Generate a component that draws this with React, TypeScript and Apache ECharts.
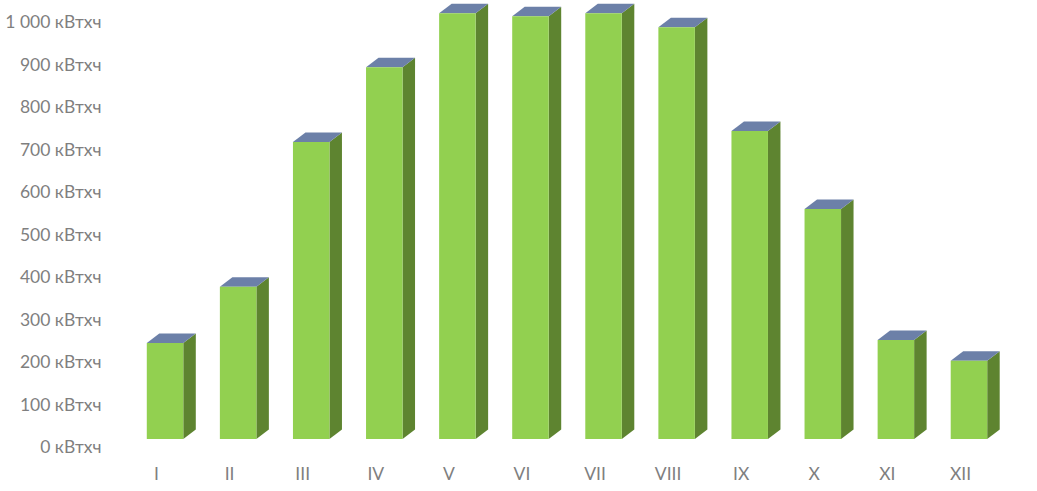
import React, { useEffect, useRef } from "react";
import * as echarts from "echarts";

const months = ["I", "II", "III", "IV", "V", "VI", "VII", "VIII", "IX", "X", "XI", "XII"];
const values = [226, 358, 699, 875, 1002, 995, 1002, 969, 725, 541, 233, 184];
const yTicks = [0, 100, 200, 300, 400, 500, 600, 700, 800, 900, 1000];

const FONT = "Lato, 'Open Sans', sans-serif";
const FRONT = "#92D050";
const SIDE = "#5E8430";
const TOP = "#6C80A8";
const TEXT = "#7F7F7F";
const DX = 12.5;
const DY = 9.5;
const BAR = 36.5;

const fmt = (v: number) => (v >= 1000 ? "1 000" : String(v)) + " кВтхч";

export default function App() {
  const ref = useRef<HTMLDivElement>(null);
  useEffect(() => {
    const chart = echarts.init(ref.current!, undefined, { renderer: "svg" });
    chart.setOption({
      animation: false,
      backgroundColor: "#ffffff",
      grid: { left: 128.5, top: 14, width: 877, height: 425, containLabel: false },
      xAxis: {
        type: "category",
        data: months,
        axisLine: { show: false },
        axisTick: { show: false },
        axisLabel: { color: TEXT, fontFamily: FONT, fontSize: 17.5, margin: 25, padding: [0, 17, 0, 0] },
      },
      yAxis: {
        type: "value",
        min: 0,
        max: 1000,
        interval: 100,
        splitLine: { show: false },
        axisLine: { show: false },
        axisTick: { show: false },
        axisLabel: {
          color: TEXT,
          fontFamily: FONT,
          fontSize: 17.5,
          lineHeight: 15,
          margin: 27,
          verticalAlign: "top",
          formatter: (v: number) => (yTicks.includes(v) ? fmt(v) : ""),
        },
      },
      series: [
        {
          type: "custom",
          clip: false,
          data: values.map((v, i) => [i, v]),
          encode: { x: 0, y: 1 },
          renderItem: (_p: any, api: any) => {
            const top = api.coord([api.value(0), api.value(1)]);
            const base = api.coord([api.value(0), 0]);
            const x0 = top[0] - BAR / 2;
            const x1 = x0 + BAR;
            const yt = top[1];
            const yb = base[1];
            return {
              type: "group",
              children: [
                {
                  type: "polygon",
                  shape: { points: [[x1, yt], [x1 + DX, yt - DY], [x1 + DX, yb - DY], [x1, yb]] },
                  style: { fill: SIDE },
                },
                {
                  type: "polygon",
                  shape: { points: [[x0, yt], [x0 + DX, yt - DY], [x1 + DX, yt - DY], [x1, yt]] },
                  style: { fill: TOP },
                },
                { type: "rect", shape: { x: x0, y: yt, width: BAR, height: yb - yt }, style: { fill: FRONT } },
              ],
            };
          },
        },
      ],
    });
    return () => chart.dispose();
  }, []);
  return <div ref={ref} style={{ width: 1037, height: 491, position: "absolute", left: 0, top: 0 }} />;
}
